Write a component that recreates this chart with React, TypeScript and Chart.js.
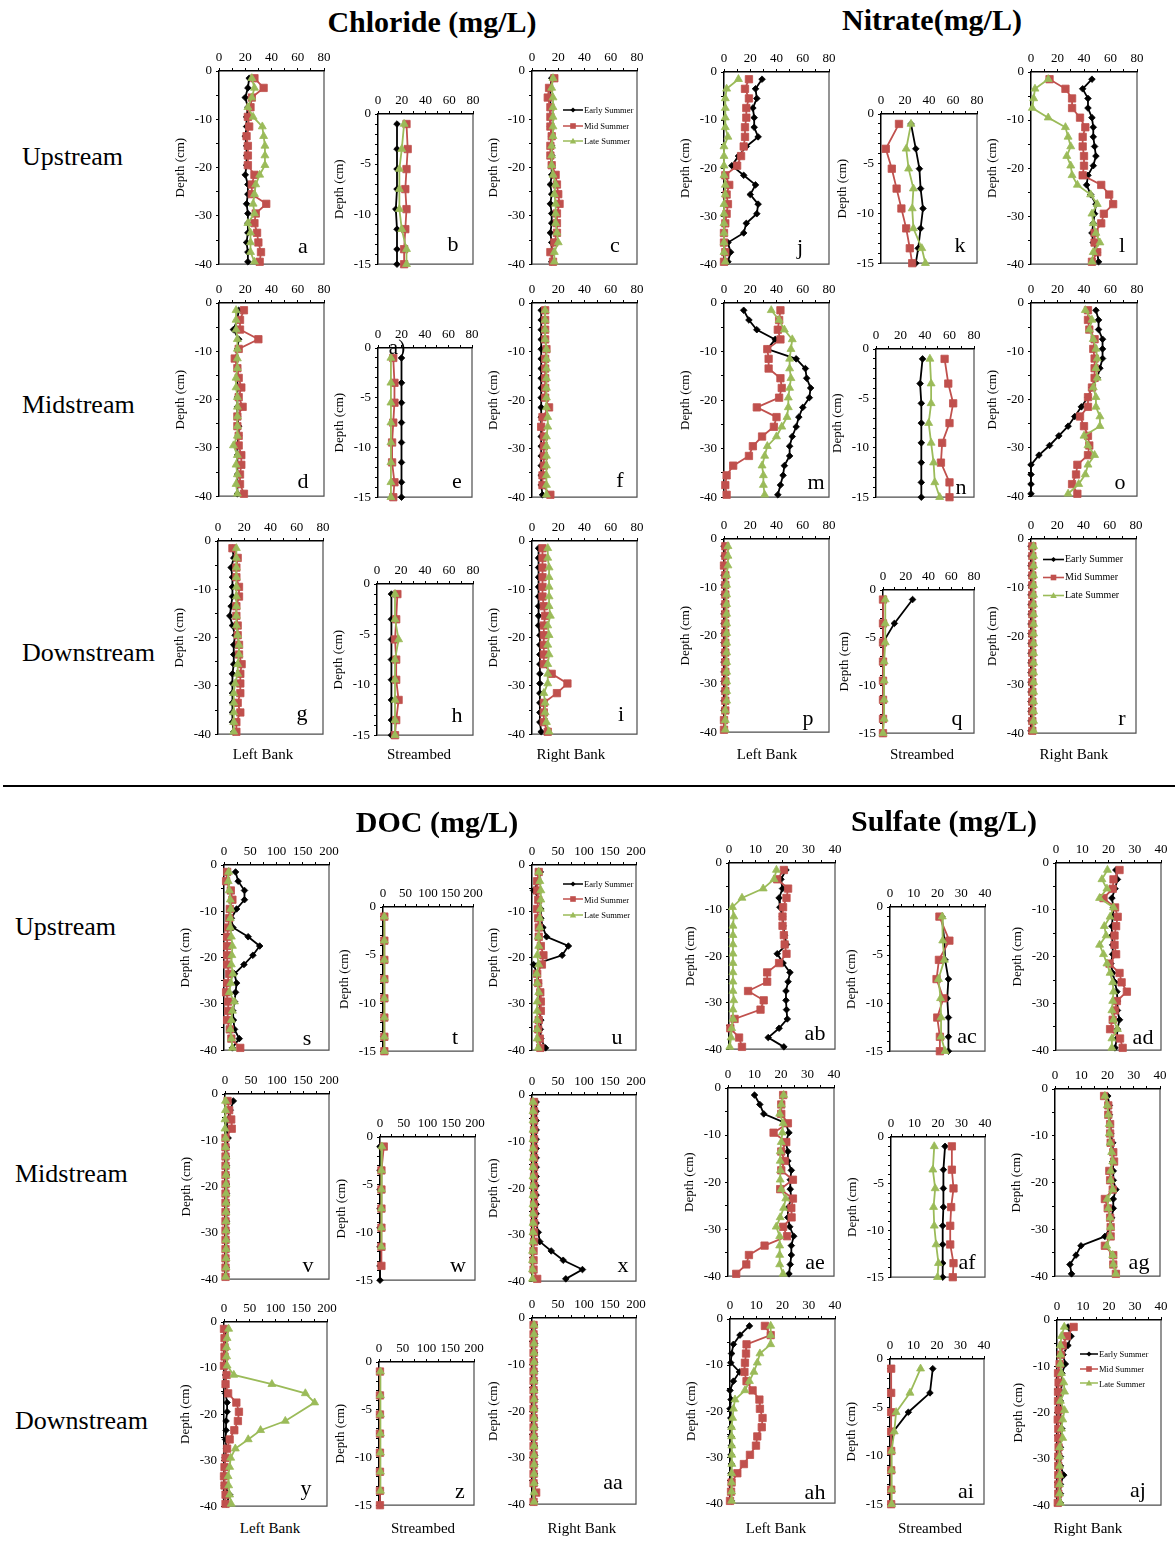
import React, { useEffect, useRef } from 'react';
import { Chart, registerables } from 'chart.js';

Chart.register(...registerables);
Chart.defaults.font.family = "'Liberation Serif', 'Times New Roman', serif";
Chart.defaults.color = '#000';

// ---------- depths & tick labels ----------
const bankDepth = [-1.5, -3.5, -5.5, -7.5, -9.5, -11.5, -13.5, -15.5, -17.5, -19.5, -21.5, -23.5, -25.5, -27.5, -29.5, -31.5, -33.5, -35.5, -37.5, -39.5];
const bedDepth = [-1, -3.5, -5.5, -7.5, -9.5, -11.5, -13.5, -15];
const bankDepthTicks = [0, -10, -20, -30, -40];
const bedDepthTicks = [0, -5, -10, -15];
const conc80Ticks = [0, 20, 40, 60, 80];
const docTicks = [0, 50, 100, 150, 200];
const sulfTicks = [0, 10, 20, 30, 40];
const seriesNames = ['Early Summer', 'Mid Summer', 'Late Summer'];

// ---------- Chloride ----------
const a_E = [23, 22, 20, 22, 21, 21, 20, 21, 21, 21, 20, 22, 22, 21, 22, 22, 22, 21, 22, 22];
const a_M = [27, 34, 25, 24, 22, 23, 21, 22, 22, 22, 27, 25, 25, 36, 28, 27, 29, 30, 32, 31];
const a_L = [25, 27, 25, 22, 26, 33, 34, 35, 35, 35, 31, 28, 27, 26, 27, 22, 24, 24, 24, 27];
const b_E = [16, 16, 16, 16, 15, 16, 16, 16];
const b_M = [24, 25, 24, 23, 24, 23, 22, 22];
const b_L = [22, 20, 18, 18, 18, 20, 24, 24];
const c_E = [15, 14, 14, 14, 14, 14, 15, 15, 15, 15, 15, 14, 15, 14, 15, 15, 14, 15, 15, 15];
const c_M = [17, 13, 12, 14, 14, 14, 15, 14, 14, 15, 18, 19, 20, 21, 19, 19, 19, 17, 14, 16];
const c_L = [16, 15, 16, 16, 16, 16, 16, 15, 15, 15, 16, 18, 17, 18, 18, 18, 19, 20, 17, 17];
const d_E = [15, 14, 11, 15, 14, 13, 14, 14, 14, 14, 14, 14, 15, 15, 14, 14, 14, 14, 14, 14];
const d_M = [19, 16, 16, 30, 15, 12, 14, 15, 17, 15, 18, 14, 14, 15, 15, 17, 17, 16, 16, 19];
const d_L = [13, 13, 13, 14, 14, 14, 14, 13, 13, 14, 14, 14, 14, 14, 11, 14, 13, 14, 13, 14];
const e_E = [20, 20, 20, 20, 20, 20, 20, 20];
const e_M = [13, 14, 14, 13, 12, 12, 14, 13];
const e_L = [11, 11, 11, 11, 11, 11, 11, 11];
const f_E = [7, 7, 7, 7, 7, 7, 7, 7, 7, 7, 7, 7, 7, 7, 7, 7, 7, 7, 7, 8];
const f_M = [10, 10, 10, 10, 11, 10, 10, 10, 10, 10, 13, 8, 7, 9, 9, 9, 9, 8, 8, 14];
const f_L = [10, 10, 10, 10, 11, 11, 11, 11, 11, 11, 11, 12, 12, 11, 11, 11, 11, 11, 11, 11];
const g_E = [11, 12, 10, 11, 11, 11, 10, 9, 11, 13, 12, 12, 12, 11, 11, 11, 11, 11, 11, 12];
const g_M = [11, 15, 14, 14, 16, 16, 14, 14, 15, 15, 16, 16, 18, 17, 17, 17, 15, 17, 14, 14];
const g_L = [14, 14, 14, 14, 14, 14, 14, 14, 14, 15, 16, 16, 15, 15, 13, 12, 12, 12, 12, 12];
const h_E = [12, 12, 12, 12, 12, 12, 12, 12];
const h_M = [17, 16, 15, 16, 16, 18, 16, 15];
const h_L = [15, 15, 18, 15, 15, 15, 15, 15];
const i_E = [5, 5, 5, 5, 5, 5, 5, 5, 5, 6, 6, 6, 6, 6, 6, 6, 6, 6, 6, 7];
const i_M = [8, 8, 8, 8, 8, 8, 9, 10, 9, 9, 9, 9, 9, 15, 27, 19, 9, 9, 9, 12];
const i_L = [12, 12, 13, 13, 13, 13, 13, 14, 12, 13, 12, 13, 12, 12, 12, 9, 10, 10, 11, 13];

// ---------- Nitrate ----------
const j_E = [29, 24, 25, 22, 23, 23, 26, 17, 11, 6, 15, 24, 20, 26, 25, 17, 15, 3, 5, 3];
const j_M = [19, 16, 19, 17, 17, 16, 16, 15, 13, 10, 1, 4, 2, 3, 2, 1, 0, 0, 1, 0];
const j_L = [11, 2, 1, 1, 1, 1, 3, 0, 0, 0, 0, 1, 1, 0, 0, 0, 0, 0, 0, 1];
const k_E = [25, 29, 32, 33, 35, 33, 31, 29];
const k_M = [15, 4, 9, 13, 17, 21, 24, 26];
const k_L = [25, 21, 23, 27, 26, 27, 34, 37];
const l_E = [46, 39, 43, 43, 46, 47, 47, 48, 49, 47, 43, 42, 45, 49, 48, 47, 46, 47, 50, 51];
const l_M = [14, 26, 31, 31, 37, 41, 39, 39, 40, 40, 39, 53, 59, 62, 55, 53, 48, 48, 50, 46];
const l_L = [13, 3, 2, 1, 13, 26, 28, 30, 27, 30, 31, 35, 45, 50, 46, 47, 49, 52, 47, 46];
const m_E = [15, 19, 25, 39, 33, 55, 62, 63, 66, 65, 60, 57, 55, 52, 50, 50, 46, 45, 43, 41];
const m_M = [43, 42, 41, 43, 33, 34, 34, 43, 44, 42, 25, 40, 38, 29, 22, 19, 7, 2, 1, 2];
const m_L = [36, 42, 46, 52, 51, 50, 50, 51, 50, 49, 49, 48, 44, 40, 33, 31, 29, 30, 30, 31];
const n_E = [38, 36, 37, 37, 37, 37, 37, 37];
const n_M = [56, 59, 63, 60, 54, 53, 60, 60];
const n_L = [44, 45, 45, 43, 45, 47, 48, 52];
const o_E = [49, 51, 51, 54, 54, 54, 52, 50, 46, 43, 38, 33, 28, 21, 14, 6, 0, 0, 0, 0];
const o_M = [43, 43, 44, 48, 47, 48, 48, 48, 46, 43, 43, 37, 40, 43, 44, 43, 35, 34, 31, 35];
const o_L = [41, 46, 44, 47, 49, 50, 49, 50, 47, 49, 49, 52, 52, 40, 43, 48, 43, 41, 36, 28];
const p_E = [0, 0, 0, 0, 0, 0, 0, 0, 0, 0, 0, 0, 0, 0, 0, 0, 0, 0, 0, 0];
const p_M = [1, 1, 0, 1, 1, 1, 1, 1, 1, 1, 1, 1, 1, 1, 1, 1, 1, 1, 0, 0];
const p_L = [3, 3, 3, 2, 2, 2, 2, 2, 2, 2, 2, 2, 2, 2, 2, 2, 2, 1, 1, 1];
const q_E = [26, 10, 0, 0, 0, 0, 0, 0];
const q_M = [0, 0, 0, 0, 0, 0, 0, 0];
const q_L = [2, 2, 2, 1, 1, 1, 1, 0];
const r_E = [0, 0, 0, 0, 0, 0, 0, 0, 0, 0, 0, 0, 0, 0, 0, 0, 0, 0, 0, 0];
const r_M = [1, 1, 1, 1, 1, 1, 1, 1, 1, 1, 1, 1, 1, 1, 1, 1, 1, 1, 1, 1];
const r_L = [2, 2, 2, 2, 2, 2, 2, 2, 2, 2, 2, 2, 2, 2, 2, 2, 2, 2, 2, 2];

// ---------- DOC ----------
const s_E = [22, 27, 39, 39, 24, 14, 17, 46, 68, 55, 38, 20, 24, 22, 20, 17, 18, 20, 29, 16];
const s_M = [6, 4, 13, 16, 11, 10, 8, 6, 6, 6, 6, 10, 6, 4, 8, 8, 6, 11, 14, 31];
const s_L = [9, 8, 10, 12, 13, 12, 12, 14, 16, 15, 14, 17, 13, 10, 20, 16, 14, 12, 14, 16];
const t_E = [2, 2, 2, 2, 2, 2, 2, 2];
const t_M = [3, 3, 3, 3, 3, 3, 3, 3];
const t_L = [3, 3, 3, 3, 3, 3, 3, 3];
const u_E = [16, 13, 3, 15, 17, 17, 21, 28, 70, 58, 3, 10, 13, 15, 16, 15, 17, 16, 17, 26];
const u_M = [13, 10, 10, 12, 10, 12, 13, 13, 17, 22, 19, 10, 12, 16, 17, 17, 13, 12, 15, 16];
const u_L = [13, 15, 17, 17, 16, 15, 15, 12, 13, 10, 13, 9, 10, 13, 10, 10, 10, 10, 10, 12];
const v_E = [16, 10, 5, 3, 6, 3, 3, 3, 3, 3, 3, 3, 3, 3, 3, 2, 2, 2, 2, 2];
const v_M = [5, 8, 12, 13, 1, 1, 1, 1, 1, 1, 1, 1, 1, 1, 1, 1, 1, 1, 1, 1];
const v_L = [1, 1, 0, 0, 1, 1, 2, 2, 2, 2, 2, 2, 2, 2, 2, 2, 2, 2, 2, 1];
const w_E = [0, 0, 0, 0, 0, 0, 0, 0];
const w_M = [8, 3, 3, 3, 3, 3, 3, null];
const w_L = [4, 3, 3, 3, 3, 3, null, null];
const x_E = [8, 8, 8, 8, 8, 8, 8, 8, 8, 8, 8, 8, 8, 8, 12, 15, 37, 60, 97, 65];
const x_M = [4, 4, 4, 4, 4, 4, 4, 4, 4, 4, 4, 4, 4, 4, 4, 4, 3, 3, 3, 10];
const x_L = [2, 2, 2, 2, 2, 2, 2, 2, 2, 2, 2, 2, 2, 2, 2, 2, 1, 1, 1, 1];
const y_E = [3, 3, 3, 3, 3, 3, 3, 3, 6, 6, 4, 4, 3, 5, 2, 1, 0, 1, 11, 5];
const y_M = [0, 1, 1, 1, 0, 5, 3, 8, 24, 29, 27, 20, 11, 6, 3, 1, 0, 1, 3, 3];
const y_L = [9, 6, 5, 5, 6, 19, 93, 158, 176, null, 119, 71, 47, 22, 13, 11, 8, 9, 11, 14];
const z_E = [2, 2, 2, 2, 2, 2, 2, 2];
const z_M = [2, 2, 2, 2, 2, 2, 2, 2];
const z_L = [3, 3, 3, 3, 3, 3, 3, null];
const aa_E = [5, 5, 5, 5, 5, 5, 5, 5, 5, 5, 5, 5, 5, 5, 5, 5, 5, 5, 5, 5];
const aa_M = [3, 3, 3, 3, 3, 3, 3, 3, 3, 3, 3, 3, 3, 3, 3, 3, 3, 3, 8, 3];
const aa_L = [4, 4, 4, 4, 4, 4, 4, 4, 4, 4, 4, 4, 4, 4, 4, 4, 4, 4, 4, 4];

// ---------- Sulfate ----------
const ab_E = [21.5, 19.6, 20.2, 18.9, 19.2, 20.2, 20.4, 21, 21.7, 18.2, 20.4, 23, 22.3, 21.5, 21.5, 21.7, 22, 18.9, 14.8, 20.7];
const ab_M = [20.7, 18.2, 22.3, 21.7, 20.4, 20.2, 20.2, 20.7, 21, 21.7, 18.9, 14.4, 14.4, 7.2, 13.1, 11.9, 2.1, 0.5, 3.8, 4.9];
const ab_L = [17.9, 17, 12.9, 4.9, 1.3, 1.8, 1.5, 1.5, 1.5, 1.5, 1.5, 1.5, 1.5, 1.5, 1.8, 1.5, 1.5, 1, 0.8, 0.3];
const ac_E = [21.8, 22.9, 23.2, 24.6, 24.1, 24.6, 24.6, 24.6];
const ac_M = [20.8, 25, 20.6, 19.6, 22.5, 19.9, 21, 21];
const ac_L = [22, 22.2, 22.9, 20.4, 21.3, 21.5, 21.5, 23.2];
const ad_E = [22.8, 23.4, 22.5, 21.3, 21.9, 21.6, 21.3, 21.3, 21.6, 21.6, 20.9, 21.6, 22.5, 23.2, 23.4, 23.4, 24.2, 23.4, 23.2, 22.5];
const ad_M = [24.2, 21.9, 21.6, 18.1, 22.5, 23.5, 22.9, 22.3, 22.3, 22.9, 20.4, 24.2, 25, 27, 23.2, 22.5, 21.6, 20.6, 24.4, 25.4];
const ad_L = [19.6, 17.5, 19.4, 16.6, 21.9, 20.6, 18.4, 19.1, 16.6, 18.1, 19.4, 20.6, 21.6, 21.9, 21.6, 21.3, 21.9, 23.4, 21.3, 21.3];
const ae_E = [10, 12, 13.5, 21.8, 23, 21.8, 22.6, 22.6, 23.9, 23.5, 23.5, 23.9, 22.6, 22.6, 23.3, 24.8, 23.9, 23.9, 23.5, 23];
const ae_M = [20.8, 20.1, 20.1, 22.6, 17.2, 22, 20.1, 21.4, 20.1, 24.5, 19.7, 24.5, 23.9, 24, 20.8, 22.3, 13.8, 7.9, 6.9, 3.1];
const ae_L = [21, 20.1, 19.5, 20.8, 20.5, 20.1, 19.7, 19.7, 19.8, 19.7, 20.1, 21.8, 21, 19.7, 18.2, 19.5, 19.5, 19.5, 19.5, 20.8];
const af_E = [23, 22.3, 22.3, 22.3, 22, 22, 22, 22];
const af_M = [25.9, 25.9, 26.6, 25.6, 25.2, 25.2, 26.6, 26.3];
const af_L = [18.4, 17.8, 18.8, 18.1, 18.4, 19.2, 20.2, 19.8];
const ag_E = [20.1, 20.7, 20.7, 21, 21.2, 22, 22, 22, 22.2, 22.2, 23.2, 22.2, 22.2, 21.6, 21.2, 19, 9.9, 8, 5.7, 6.3];
const ag_M = [18.7, 20.3, 20.3, 21, 21, 21.2, 22.2, 22.5, 20.7, 21, 22, 19, 20.1, 21, 21.2, 21.2, 19, 22.2, 22.2, 23.2];
const ag_L = [19, 19.9, 20.3, 20.7, 20.7, 21, 21.6, 22, 21.2, 21.2, 22, 19.9, 20.3, 21, 21.2, 21, 19.7, 22, 22.2, 23.2];
const ah_E = [7.4, 3.8, 1.3, 0.6, 0.3, 3.6, 1.3, 0, 0.4, 0, 0.3, 0.4, 0.4, 0.5, 0.4, 0.5, 0.4, 0.5, 0.5, 0.5];
const ah_M = [13.3, 15.5, 6.3, 6.1, 5.7, 5.5, 6.3, 8.6, 11.2, 11.4, 12.4, 12.1, 10.4, 9.9, 7.6, 5.3, 2.8, 0.6, 0.4, 0];
const ah_L = [15.5, 15.5, 15.5, 11.4, 10.4, 9.1, 7.4, 5.7, 1.9, 1.3, 1, 0.6, 0.6, 0.7, 0.7, 0.7, 0.6, 0.6, 0.6, 0.6];
const ai_E = [18.2, 17, 7.8, 1.4, 0.4, 0.4, 0.4, 0.4];
const ai_M = [0.5, 0.5, 0.5, 0.5, 0.5, 0.5, 0.5, 0.5];
const ai_L = [13, 8.5, 2.6, 1.8, 0.7, 0.7, 0.7, 0.7];
const aj_E = [4.2, 5.4, 4.2, 2.3, 3.2, 1.9, 1.9, 1.5, 1.3, 1.3, 1.3, 1.9, 1.3, 1.3, 1.3, 1.3, 2.6, 1.3, 1.3, 1.3];
const aj_M = [6.4, 3.8, 2.2, 1.5, 1, 0.4, 0.6, 0.4, 0.4, 0.6, 0.3, 0.5, 0.5, 0.6, 0.5, 0.5, 0.5, 0.5, 0.5, 0.3];
const aj_L = [2.8, 1.7, 1.3, 1.3, 1.3, 1.7, 2.6, 2.9, 1.3, 2.9, 2.2, 1.7, 2.2, 1, 1, 1, 1, 1, 1, 1.3];

// ---------- layout / styles ----------
const FONT = "'Liberation Serif', 'Times New Roman', serif";
const YW = 48;
const XH = 26;
const RP = 16;
const BP = 10;

type Vals = (number | null)[];
type AxisKey = 'cl' | 'doc' | 'so4';
type Panel = {
  key: string;
  bed: boolean;
  axis: AxisKey;
  box: number[];
  lx: number;
  ly: number;
  series: Vals[];
};

const axisCfg: Record<AxisKey, { max: number; step: number; labels: number[] }> = {
  cl: { max: 80, step: 10, labels: conc80Ticks },
  doc: { max: 200, step: 25, labels: docTicks },
  so4: { max: 40, step: 5, labels: sulfTicks },
};

const seriesStyle = [
  { color: '#000000', pointStyle: 'rectRot', radius: 3.3, order: 3 },
  { color: '#C0504D', pointStyle: 'rect', radius: 5.2, order: 2 },
  { color: '#9BBB59', pointStyle: 'triangle', radius: 4.6, order: 1 },
];

const P = (key: string, bed: boolean, axis: AxisKey, box: number[], lx: number, ly: number, series: Vals[]): Panel => ({ key, bed, axis, box, lx, ly, series });

const panels: Panel[] = [
  P('a', false, 'cl', [219, 71, 324, 266], 303, 246, [a_E, a_M, a_L]),
  P('b', true, 'cl', [378, 114, 473, 266], 453, 244, [b_E, b_M, b_L]),
  P('c', false, 'cl', [532, 71, 637, 266], 615, 245, [c_E, c_M, c_L]),
  P('d', false, 'cl', [219, 303, 324, 498], 303, 481, [d_E, d_M, d_L]),
  P('e', true, 'cl', [378, 348, 472, 499], 457, 481, [e_E, e_M, e_L]),
  P('f', false, 'cl', [532, 303, 637, 499], 620, 480, [f_E, f_M, f_L]),
  P('g', false, 'cl', [218, 541, 323, 736], 302, 713, [g_E, g_M, g_L]),
  P('h', true, 'cl', [377, 584, 473, 737], 457, 715, [h_E, h_M, h_L]),
  P('i', false, 'cl', [532, 541, 637, 736], 621, 714, [i_E, i_M, i_L]),
  P('j', false, 'cl', [724, 72, 829, 266], 800, 247, [j_E, j_M, j_L]),
  P('k', true, 'cl', [881, 114, 977, 265], 960, 245, [k_E, k_M, k_L]),
  P('l', false, 'cl', [1031, 72, 1137, 266], 1122, 245, [l_E, l_M, l_L]),
  P('m', false, 'cl', [724, 303, 829, 499], 816, 482, [m_E, m_M, m_L]),
  P('n', true, 'cl', [876, 349, 974, 499], 961, 487, [n_E, n_M, n_L]),
  P('o', false, 'cl', [1031, 303, 1137, 498], 1120, 482, [o_E, o_M, o_L]),
  P('p', false, 'cl', [724, 539, 829, 734], 808, 718, [p_E, p_M, p_L]),
  P('q', true, 'cl', [883, 590, 974, 735], 957, 718, [q_E, q_M, q_L]),
  P('r', false, 'cl', [1031, 539, 1136, 735], 1122, 718, [r_E, r_M, r_L]),
  P('s', false, 'doc', [224, 865, 329, 1052], 307, 1038, [s_E, s_M, s_L]),
  P('t', true, 'doc', [383, 907, 473, 1053], 455, 1037, [t_E, t_M, t_L]),
  P('u', false, 'doc', [532, 865, 636, 1052], 617, 1037, [u_E, u_M, u_L]),
  P('v', false, 'doc', [225, 1094, 329, 1281], 308, 1265, [v_E, v_M, v_L]),
  P('w', true, 'doc', [380, 1137, 475, 1282], 458, 1265, [w_E, w_M, w_L]),
  P('x', false, 'doc', [532, 1095, 636, 1283], 623, 1265, [x_E, x_M, x_L]),
  P('y', false, 'doc', [224, 1322, 327, 1508], 306, 1488, [y_E, y_M, y_L]),
  P('z', true, 'doc', [379, 1362, 474, 1507], 460, 1491, [z_E, z_M, z_L]),
  P('aa', false, 'doc', [532, 1318, 636, 1506], 613, 1482, [aa_E, aa_M, aa_L]),
  P('ab', false, 'so4', [729, 863, 835, 1051], 815, 1033, [ab_E, ab_M, ab_L]),
  P('ac', true, 'so4', [890, 907, 985, 1053], 967, 1036, [ac_E, ac_M, ac_L]),
  P('ad', false, 'so4', [1056, 863, 1161, 1052], 1143, 1037, [ad_E, ad_M, ad_L]),
  P('ae', false, 'so4', [728, 1088, 834, 1278], 815, 1262, [ae_E, ae_M, ae_L]),
  P('af', true, 'so4', [891, 1137, 985, 1279], 967, 1262, [af_E, af_M, af_L]),
  P('ag', false, 'so4', [1055, 1089, 1160, 1278], 1139, 1262, [ag_E, ag_M, ag_L]),
  P('ah', false, 'so4', [730, 1319, 835, 1505], 815, 1492, [ah_E, ah_M, ah_L]),
  P('ai', true, 'so4', [890, 1359, 984, 1506], 966, 1491, [ai_E, ai_M, ai_L]),
  P('aj', false, 'so4', [1057, 1320, 1161, 1507], 1138, 1490, [aj_E, aj_M, aj_L]),
];

const framePlugin = {
  id: 'frame',
  beforeDatasetsDraw(chart: any) {
    const { ctx, chartArea } = chart;
    const { left, top, right, bottom } = chartArea;
    ctx.save();
    ctx.strokeStyle = '#4d4d4d';
    ctx.lineWidth = 1.2;
    ctx.beginPath();
    ctx.moveTo(left, bottom);
    ctx.lineTo(right, bottom);
    ctx.lineTo(right, top);
    ctx.stroke();
    ctx.restore();
  },
};

function PanelChart({ p }: { p: Panel }) {
  const ref = useRef<HTMLCanvasElement>(null);
  const [l, t, r, b] = p.box;
  const W = r - l + YW + RP;
  const H = b - t + XH + BP;
  useEffect(() => {
    const depth = p.bed ? bedDepth : bankDepth;
    const yLabels = p.bed ? bedDepthTicks : bankDepthTicks;
    const ax = axisCfg[p.axis];
    const datasets = p.series.map((vals, si) => {
      const st = seriesStyle[si];
      return {
        label: seriesNames[si],
        data: vals
          .map((v, k) => ({ x: v, y: depth[k] }))
          .filter((pt) => pt.x !== null),
        showLine: true,
        borderColor: st.color,
        backgroundColor: st.color,
        borderWidth: 1.8,
        pointStyle: st.pointStyle,
        pointRadius: st.radius,
        pointBackgroundColor: st.color,
        pointBorderColor: st.color,
        pointBorderWidth: 0.8,
        tension: 0,
        order: st.order,
        clip: false,
      };
    });
    const chart = new Chart(ref.current!, {
      type: 'scatter',
      data: { datasets } as any,
      options: {
        animation: false,
        responsive: false,
        maintainAspectRatio: false,
        events: [],
        layout: { padding: { left: 0, top: 0, right: RP, bottom: BP } },
        plugins: { legend: { display: false }, tooltip: { enabled: false } },
        scales: {
          x: {
            type: 'linear',
            position: 'top',
            min: 0,
            max: ax.max,
            afterFit: (s: any) => {
              s.height = XH;
            },
            ticks: {
              stepSize: ax.step,
              autoSkip: false,
              maxRotation: 0,
              padding: 3,
              color: '#000',
              font: { family: FONT, size: 13 },
              callback: (v: any) => (ax.labels.includes(Number(v)) ? String(v) : ''),
            },
            grid: { drawOnChartArea: false, drawTicks: true, tickLength: 3, color: '#000' },
            border: { display: true, color: '#000', width: 1.5 },
          },
          y: {
            type: 'linear',
            position: 'left',
            min: p.bed ? -15 : -40,
            max: 0,
            afterFit: (s: any) => {
              s.width = YW;
            },
            ticks: {
              stepSize: p.bed ? 1 : 5,
              autoSkip: false,
              padding: 4,
              color: '#000',
              font: { family: FONT, size: 13 },
              callback: (v: any) => (yLabels.includes(Number(v)) ? String(v) : ''),
            },
            grid: { drawOnChartArea: false, drawTicks: true, tickLength: 3, color: '#000' },
            border: { display: true, color: '#000', width: 1.5 },
            title: {
              display: true,
              text: 'Depth (cm)',
              color: '#000',
              font: { family: FONT, size: 13 },
              padding: { top: 2, bottom: 0 },
            },
          },
        },
      } as any,
      plugins: [framePlugin],
    });
    return () => chart.destroy();
  }, []);
  return (
    <canvas
      ref={ref}
      width={W}
      height={H}
      style={{ position: 'absolute', left: l - YW, top: t - XH, width: W, height: H }}
    />
  );
}

function Marker({ kind, cx, cy, color }: { kind: number; cx: number; cy: number; color: string }) {
  if (kind === 0) {
    const s = 2.6;
    return <polygon points={`${cx},${cy - s} ${cx + s},${cy} ${cx},${cy + s} ${cx - s},${cy}`} fill={color} />;
  }
  if (kind === 1) {
    const s = 2.8;
    return <rect x={cx - s} y={cy - s} width={2 * s} height={2 * s} fill={color} />;
  }
  const s = 3.2;
  return <polygon points={`${cx},${cy - s} ${cx + s},${cy + s * 0.75} ${cx - s},${cy + s * 0.75}`} fill={color} />;
}

function LegendBox({ x, y, gap, len, size }: { x: number; y: number; gap: number; len: number; size: number }) {
  return (
    <>
      {seriesNames.map((name, i) => (
        <div
          key={name}
          style={{
            position: 'absolute',
            left: x,
            top: y + i * gap,
            transform: 'translateY(-50%)',
            display: 'flex',
            alignItems: 'center',
            whiteSpace: 'nowrap',
            fontSize: size,
            lineHeight: 1,
            fontFamily: FONT,
            zIndex: 3,
          }}
        >
          <svg width={len} height={9} style={{ display: 'block' }}>
            <line x1={0} y1={4.5} x2={len} y2={4.5} stroke={seriesStyle[i].color} strokeWidth={1.6} />
            <Marker kind={i} cx={len / 2} cy={4.5} color={seriesStyle[i].color} />
          </svg>
          <span style={{ marginLeft: 1 }}>{name}</span>
        </div>
      ))}
    </>
  );
}

function Txt({ x, y, size, bold, children, left }: { x: number; y: number; size: number; bold?: boolean; children: React.ReactNode; left?: boolean }) {
  return (
    <div
      style={{
        position: 'absolute',
        left: x,
        top: y,
        transform: left ? 'translate(0,-50%)' : 'translate(-50%,-50%)',
        fontSize: size,
        fontWeight: bold ? 'bold' : 'normal',
        fontFamily: FONT,
        lineHeight: 1,
        whiteSpace: 'nowrap',
        color: '#000',
        zIndex: 2,
      }}
    >
      {children}
    </div>
  );
}

export default function App() {
  return (
    <div style={{ position: 'absolute', left: 0, top: 0, width: 1175, height: 1542, background: '#fff', overflow: 'hidden', fontFamily: FONT }}>
      {panels.map((p) => (
        <PanelChart key={p.key} p={p} />
      ))}
      {panels.map((p) => (
        <Txt key={'l' + p.key} x={p.lx} y={p.ly} size={22}>
          {p.key}
        </Txt>
      ))}
      <Txt x={397} y={347} size={21}>a)</Txt>

      <Txt x={432} y={22} size={30} bold>Chloride (mg/L)</Txt>
      <Txt x={932} y={20} size={30} bold>Nitrate(mg/L)</Txt>
      <Txt x={437} y={822} size={30} bold>DOC (mg/L)</Txt>
      <Txt x={944} y={821} size={30} bold>Sulfate (mg/L)</Txt>

      <Txt x={22} y={157} size={26} left>Upstream</Txt>
      <Txt x={22} y={405} size={26} left>Midstream</Txt>
      <Txt x={22} y={653} size={26} left>Downstream</Txt>
      <Txt x={15} y={927} size={26} left>Upstream</Txt>
      <Txt x={15} y={1174} size={26} left>Midstream</Txt>
      <Txt x={15} y={1421} size={26} left>Downstream</Txt>

      <Txt x={263} y={754} size={15}>Left Bank</Txt>
      <Txt x={419} y={754} size={15}>Streambed</Txt>
      <Txt x={571} y={754} size={15}>Right Bank</Txt>
      <Txt x={767} y={754} size={15}>Left Bank</Txt>
      <Txt x={922} y={754} size={15}>Streambed</Txt>
      <Txt x={1074} y={754} size={15}>Right Bank</Txt>
      <Txt x={270} y={1528} size={15}>Left Bank</Txt>
      <Txt x={423} y={1528} size={15}>Streambed</Txt>
      <Txt x={582} y={1528} size={15}>Right Bank</Txt>
      <Txt x={776} y={1528} size={15}>Left Bank</Txt>
      <Txt x={930} y={1528} size={15}>Streambed</Txt>
      <Txt x={1088} y={1528} size={15}>Right Bank</Txt>

      <div style={{ position: 'absolute', left: 3, top: 785, width: 1172, height: 2, background: '#000' }} />

      <LegendBox x={563} y={110} gap={15.5} len={20} size={8.5} />
      <LegendBox x={1043} y={559} gap={18} len={21} size={10} />
      <LegendBox x={563} y={884} gap={15.3} len={20} size={8.5} />
      <LegendBox x={1080} y={1354} gap={14.7} len={18} size={8.5} />
    </div>
  );
}
